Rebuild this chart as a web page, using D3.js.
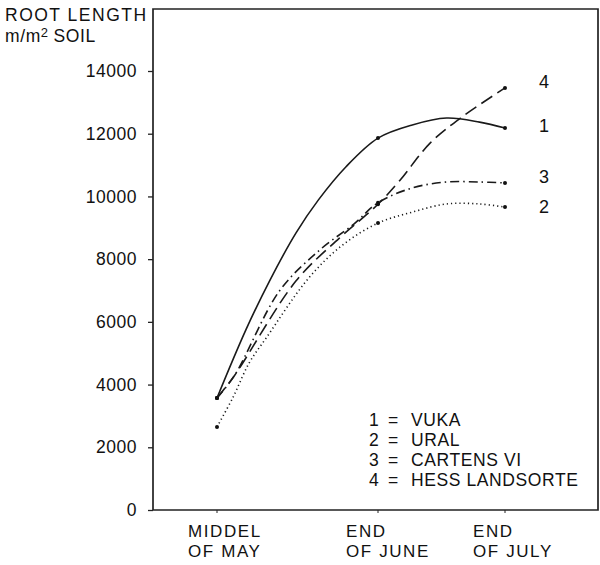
<!DOCTYPE html>
<html>
<head>
<meta charset="utf-8">
<script src="https://cdn.jsdelivr.net/npm/d3@7"></script>
<style>
  body { margin: 0; background: #fff; }
  text { font-family: "Liberation Sans", Arial, sans-serif; fill: #111; }
</style>
</head>
<body>
<svg id="chart" width="600" height="565"></svg>
<script>
// Root length through the season for four varieties

var periods = ["MIDDEL|OF MAY", "END|OF JUNE", "END|OF JULY"];
var yTicks = [0, 2000, 4000, 6000, 8000, 10000, 12000, 14000];

// time runs 0 = middle of May, 1 = end of June, 2 = end of July
var vukaT = [0, 0.18, 0.33, 0.49, 0.63, 0.80, 1.0, 1.27, 1.54, 1.80, 2.0];
var vukaV = [3570, 5750, 7340, 8830, 9890, 10940, 11860, 12280, 12500, 12370, 12180];

var uralT = [0, 0.10, 0.20, 0.31, 0.57, 0.78, 1.0, 1.27, 1.54, 1.80, 2.0];
var uralV = [2650, 3600, 4690, 5520, 7400, 8450, 9150, 9500, 9760, 9760, 9660];

var cartensT = [0, 0.11, 0.39, 0.64, 0.85, 1.0, 1.27, 1.54, 1.80, 2.0];
var cartensV = [3570, 4300, 7000, 8300, 9120, 9800, 10270, 10460, 10460, 10430];

var hessT = [0, 0.11, 0.49, 0.76, 1.0, 1.17, 1.41, 1.66, 2.0];
var hessV = [3570, 4300, 7300, 8670, 9750, 10500, 11700, 12530, 13460];

var seriesNames = ["VUKA", "URAL", "CARTENS VI", "HESS LANDSORTE"];
var seriesNums = ["1", "2", "3", "4"];

var series = [
  { t: vukaT, v: vukaV, dash: null },
  { t: uralT, v: uralV, dash: "1.2,3" },
  { t: cartensT, v: cartensV, dash: "9,4,1.5,4" },
  { t: hessT, v: hessV, dash: "13,6" }
];

var svg = d3.select("#chart");

var x = d3.scaleLinear().domain([0, 1, 2]).range([217, 378, 505]);
var y = d3.scaleLinear().domain([0, 14000]).range([510, 71]);

var frameL = 153, frameR = 598, frameT = 9, frameB = 510;

// frame round the plot
svg.append("path")
  .attr("d", "M" + frameL + "," + frameB + "V" + frameT + "H" + frameR + "V" + frameB + "Z")
  .attr("fill", "none")
  .attr("stroke", "#222")
  .attr("stroke-width", 1.7);

// y axis ticks
var yAxis = d3.axisLeft(y).tickValues(yTicks).tickSize(5).tickPadding(11)
  .tickFormat(function(d) { return d; });
svg.append("g")
  .attr("transform", "translate(" + frameL + ",0)")
  .call(yAxis)
  .call(function(g) { g.select(".domain").remove(); })
  .call(function(g) {
    g.selectAll("line").attr("stroke", "#222").attr("stroke-width", 1.3);
    g.selectAll("text")
      .style("font-size", "17.5px")
      .style("font-family", "Liberation Sans, Arial, sans-serif")
      .style("letter-spacing", "0.5px")
      .attr("fill", "#111");
  });

// x axis ticks and two-line labels
var xg = svg.append("g");
periods.forEach(function(p, i) {
  xg.append("line")
    .attr("x1", x(i)).attr("x2", x(i))
    .attr("y1", frameB).attr("y2", frameB + 3)
    .attr("stroke", "#222");
  var lbl = xg.append("text")
    .style("font-size", "17px")
    .style("letter-spacing", "1.6px");
  p.split("|").forEach(function(s, j) {
    lbl.append("tspan")
      .attr("x", x(i) - (i === 0 ? 29 : 32))
      .attr("y", 537 + j * 20)
      .text(s);
  });
});

// axis title
var title = svg.append("text").style("font-size", "17.5px");
title.append("tspan").attr("x", 5).attr("y", 21).style("letter-spacing", "1.5px").text("ROOT LENGTH");
title.append("tspan").attr("x", 5).attr("y", 42).style("letter-spacing", "0.6px").text("m/m");
title.append("tspan").attr("dy", -5).style("font-size", "13px").text("2");
title.append("tspan").attr("dy", 5).style("letter-spacing", "0.6px").text(" SOIL");

// the curves
var line = d3.line()
  .x(function(d) { return x(d[0]); })
  .y(function(d) { return y(d[1]); })
  .curve(d3.curveCatmullRom.alpha(0.5));

series.forEach(function(s) {
  var pts = s.t.map(function(t, i) { return [t, s.v[i]]; });
  svg.append("path")
    .datum(pts)
    .attr("d", line)
    .attr("fill", "none")
    .attr("stroke", "#1a1a1a")
    .attr("stroke-width", 1.6)
    .attr("stroke-dasharray", s.dash);
  svg.selectAll(null)
    .data(pts.filter(function(d) { return d[0] === 0 || d[0] === 1 || d[0] === 2; }))
    .enter().append("circle")
      .attr("cx", function(d) { return x(d[0]); })
      .attr("cy", function(d) { return y(d[1]); })
      .attr("r", 2)
      .attr("fill", "#111");
});

// numbers at the end of each curve
var endLabelY = { "1": 132, "2": 213, "3": 183, "4": 88 };
seriesNums.forEach(function(n) {
  svg.append("text")
    .attr("x", 539)
    .attr("y", endLabelY[n])
    .style("font-size", "18px")
    .text(n);
});

// legend, written as three columns
var legNum = svg.append("text").style("font-size", "17.5px");
var legEq = svg.append("text").style("font-size", "17.5px");
var legName = svg.append("text").style("font-size", "17.5px").style("letter-spacing", "0.6px");
seriesNames.forEach(function(name, i) {
  var ly = 426 + i * 20;
  legNum.append("tspan").attr("x", 369).attr("y", ly).text(seriesNums[i]);
  legEq.append("tspan").attr("x", 388).attr("y", ly).text("=");
  legName.append("tspan").attr("x", 411).attr("y", ly).text(name);
});
</script>
</body>
</html>
